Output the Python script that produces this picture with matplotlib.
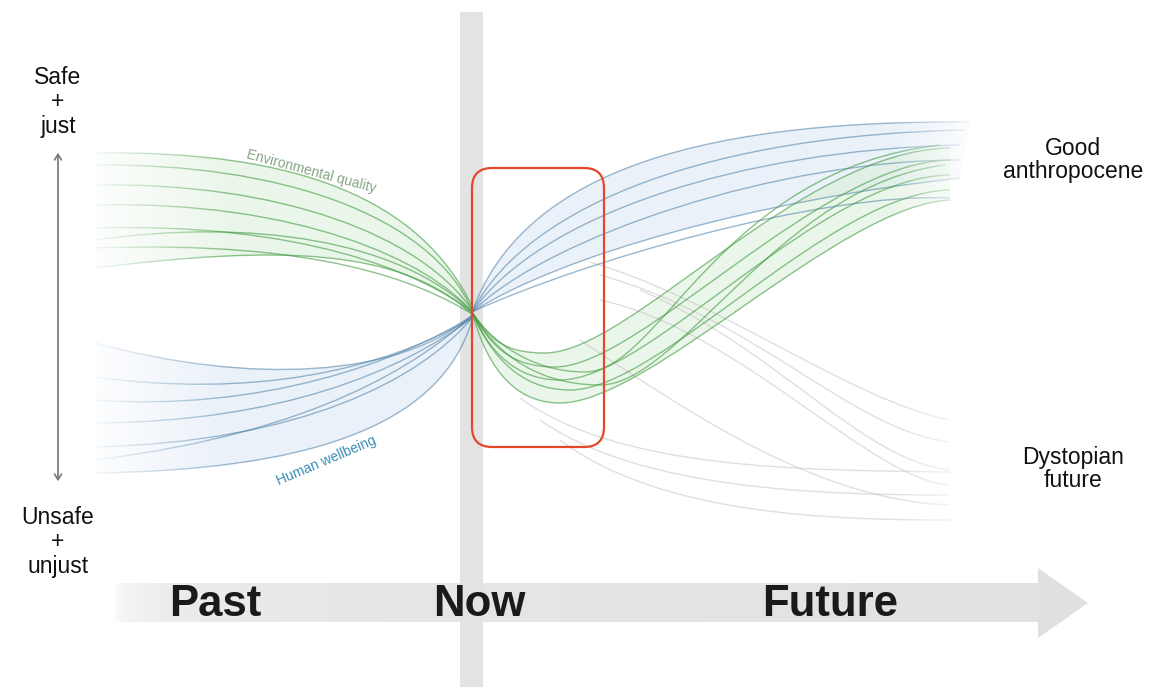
import matplotlib
matplotlib.use('Agg')
import numpy as np
from matplotlib import pyplot as plt
from matplotlib.path import Path
from matplotlib.patches import PathPatch, Polygon, FancyBboxPatch
from matplotlib.colors import LinearSegmentedColormap

# Curves are cubic Bezier control points (pixel units, y down)
NOW = (472, 312)

green_past = [
    [(95, 153), (300, 150), (420, 200), (472, 306)],
    [(95, 165), (280, 163), (430, 215), (472, 310)],
    [(95, 185), (280, 182), (420, 235), (472, 310)],
    [(95, 205), (300, 200), (430, 262), (472, 312)],
    [(95, 228), (300, 222), (420, 272), (472, 312)],
    [(95, 248), (320, 240), (420, 282), (472, 314)],
    [(95, 268), (280, 245), (400, 248), (472, 314)],
    [(95, 240), (250, 218), (400, 240), (472, 312)],
]

# two segments each: now -> dip -> good anthropocene
green_future = [
    [NOW, (490, 340), (505, 353), (545, 353), (630, 353), (800, 150), (950, 148)],
    [NOW, (490, 345), (510, 367), (555, 367), (640, 367), (820, 162), (950, 160)],
    [NOW, (488, 350), (515, 380), (560, 380), (650, 380), (820, 176), (950, 175)],
    [NOW, (490, 355), (520, 390), (570, 390), (660, 390), (830, 192), (950, 190)],
    [NOW, (485, 360), (510, 403), (560, 403), (650, 403), (840, 205), (950, 200)],
    [NOW, (490, 340), (530, 372), (585, 372), (660, 372), (720, 170), (940, 145)],
    [NOW, (490, 345), (530, 385), (600, 385), (680, 385), (780, 185), (945, 165)],
]

blue_past = [
    [(95, 343), (250, 385), (400, 378), (472, 315)],
    [(95, 377), (250, 398), (380, 372), (472, 318)],
    [(95, 400), (260, 412), (400, 362), (472, 316)],
    [(95, 423), (280, 422), (400, 372), (472, 318)],
    [(95, 447), (300, 442), (420, 380), (472, 318)],
    [(95, 473), (300, 470), (440, 430), (472, 320)],
    [(95, 460), (320, 432), (420, 362), (472, 316)],
]

blue_future = [
    [NOW, (520, 180), (680, 120), (970, 122)],
    [NOW, (530, 200), (720, 135), (965, 130)],
    [NOW, (540, 215), (740, 150), (960, 145)],
    [NOW, (550, 235), (780, 160), (960, 160)],
    [NOW, (560, 255), (760, 200), (960, 178)],
    [NOW, (580, 262), (820, 192), (950, 198)],
]

gray_future = [
    [(590, 262), (720, 300), (850, 400), (950, 420)],
    [(600, 275), (760, 320), (850, 430), (950, 442)],
    [(640, 290), (780, 350), (860, 460), (950, 470)],
    [(520, 398), (620, 470), (800, 470), (950, 472)],
    [(540, 420), (640, 490), (820, 495), (950, 495)],
    [(560, 440), (660, 515), (830, 520), (950, 520)],
    [(580, 340), (700, 420), (820, 500), (950, 505)],
    [(600, 300), (740, 330), (870, 480), (950, 485)],
]

time_labels = ['Past', 'Now', 'Future']
time_x = [215, 479, 830]


def bez_path(pts):
    codes = [Path.MOVETO] + [Path.CURVE4] * (len(pts) - 1)
    return Path(pts, codes)


def band_path(top, bottom):
    back = bottom[::-1]
    verts = list(top) + list(back) + [top[0]]
    codes = ([Path.MOVETO] + [Path.CURVE4] * (len(top) - 1) +
             [Path.LINETO] + [Path.CURVE4] * (len(back) - 1) + [Path.CLOSEPOLY])
    return Path(verts, codes)


fig = plt.figure(figsize=(11.71, 6.87), dpi=100)
ax = fig.add_axes([0, 0, 1, 1])
ax.set_xlim(0, 1171)
ax.set_ylim(687, 0)
ax.axis('off')

# timeline arrow (behind everything)
band_cmap = LinearSegmentedColormap.from_list('band', ['#ffffff', '#ececec', '#e6e6e6', '#e2e2e2'])
grad = np.linspace(0, 1, 256).reshape(1, -1) ** 0.4
ax.imshow(grad, extent=[112, 1040, 622, 583], aspect='auto', cmap=band_cmap, vmin=0, vmax=1,
          zorder=0, interpolation='bilinear')
ax.add_patch(Polygon([(1038, 568), (1088, 603), (1038, 638)],
                     closed=True, fc='#e0e0e0', ec='none', zorder=0))

# "now" vertical band
ax.add_patch(Polygon([(460, 12), (483, 12), (483, 687), (460, 687)],
                     closed=True, fc='#e3e3e3', ec='none', zorder=0.5))

# light fills between outer curves
ax.add_patch(PathPatch(band_path(green_past[0], green_past[6]), fc='#d9eed6', ec='none', alpha=0.5, zorder=1))
ax.add_patch(PathPatch(band_path(blue_past[0], blue_past[5]), fc='#dce9f6', ec='none', alpha=0.6, zorder=1))
ax.add_patch(PathPatch(band_path(blue_future[0], blue_future[4]), fc='#dce9f6', ec='none', alpha=0.6, zorder=1))
ax.add_patch(PathPatch(band_path(green_future[0], green_future[4]), fc='#d9eed6', ec='none', alpha=0.5, zorder=1))

for c in gray_future:
    ax.add_patch(PathPatch(bez_path(c), fc='none', ec='#b9b9b9', lw=1.0, alpha=0.45, zorder=2))
for c in blue_past + blue_future:
    ax.add_patch(PathPatch(bez_path(c), fc='none', ec='#4a7ea6', lw=1.0, alpha=0.55, zorder=3))
for c in green_past + green_future:
    ax.add_patch(PathPatch(bez_path(c), fc='none', ec='#3f9a3f', lw=1.0, alpha=0.6, zorder=4))

# fade curve ends into the white background
fade = np.linspace(0, 1, 256).reshape(1, -1)
white = np.ones((1, 256, 4))
white[..., 3] = 1 - fade
ax.imshow(white, extent=[80, 230, 520, 120], aspect='auto', zorder=5, interpolation='bilinear')
white_r = np.ones((1, 256, 4))
white_r[..., 3] = fade
ax.imshow(white_r, extent=[890, 985, 540, 100], aspect='auto', zorder=5, interpolation='bilinear')

# curve labels
ax.text(311, 172, 'Environmental quality', color='#86a886', fontsize=10, rotation=-15,
        ha='center', va='center', family='Liberation Sans', zorder=6)
ax.text(326, 461, 'Human wellbeing', color='#3a8db5', fontsize=10, rotation=23,
        ha='center', va='center', family='Liberation Sans', zorder=6)

# vertical axis arrow and labels
ax.annotate('', xy=(58, 150), xytext=(58, 484),
            arrowprops=dict(arrowstyle='<->,head_width=0.25,head_length=0.4', color='#777777', lw=1.2),
            zorder=7)
ax.text(58, 102, 'Safe\n+\njust', ha='center', va='center', fontsize=16.5, linespacing=1.1,
        family='Liberation Sans', color='#111111', zorder=7)
ax.text(58, 542, 'Unsafe\n+\nunjust', ha='center', va='center', fontsize=16.5, linespacing=1.1,
        family='Liberation Sans', color='#111111', zorder=7)
ax.text(1073, 160, 'Good\nanthropocene', ha='center', va='center', fontsize=16.5, linespacing=1.05,
        family='Liberation Sans', color='#111111', zorder=7)
ax.text(1073, 469, 'Dystopian\nfuture', ha='center', va='center', fontsize=16.5, linespacing=1.05,
        family='Liberation Sans', color='#111111', zorder=7)

for lab, x in zip(time_labels, time_x):
    ax.text(x, 605, lab, ha='center', va='center', fontsize=31.5, fontweight='bold',
            family='Liberation Sans', color='#1a1a1a', zorder=7)

# hand drawn highlight box
ax.add_patch(FancyBboxPatch((472, 168), 132, 279, boxstyle='round,pad=0,rounding_size=20',
                            fc='none', ec='#e5472b', lw=1.6, zorder=8))

fig.savefig('out.png', dpi=100)
